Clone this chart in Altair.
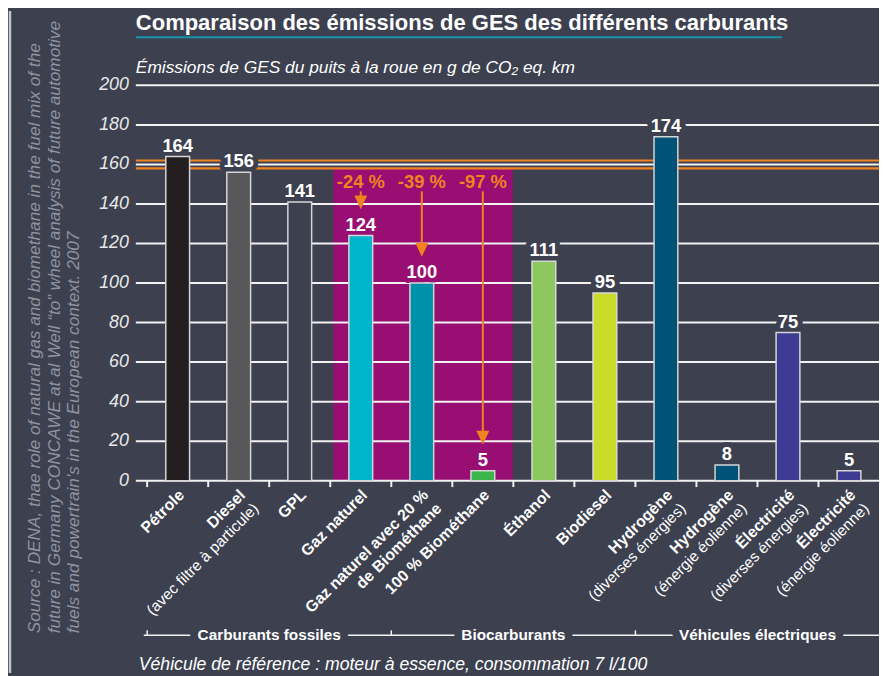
import altair as alt
import pandas as pd

# ---------------- data ----------------
categories = ["Pétrole", "Diesel", "GPL", "Gaz naturel", "Gaz naturel avec 20 %",
              "100 % Biométhane", "Éthanol", "Biodiesel", "Hydrogène", "Hydrogène",
              "Électricité", "Électricité"]
sublabels = ["", "(avec filtre à particule)", "", "", "de Biométhane", "", "", "",
             "(diverses énergies)", "(énergie éolienne)", "(diverses énergies)", "(énergie éolienne)"]
sublabel_bold = [False, False, False, False, True, False, False, False, False, False, False, False]
values = [164, 156, 141, 124, 100, 5, 111, 95, 174, 8, 75, 5]
bar_colors = ["#231f20", "#58585a", "#3c404f", "#00b4cb", "#0090ab", "#3ab54a",
              "#8cc85d", "#cbdb2a", "#005377", "#005377", "#3d3b93", "#3d3b93"]
reductions = ["", "", "", "-24 %", "-39 %", "-97 %", "", "", "", "", "", ""]
group_names = ["Carburants fossiles", "Biocarburants", "Véhicules électriques"]
group_first = [0, 4, 8]
group_last = [3, 7, 11]
y_ticks = [0, 20, 40, 60, 80, 100, 120, 140, 160, 180, 200]
reference_lines = [158, 162]
highlight_first, highlight_last = 3, 5

title_text = "Comparaison des émissions de GES des différents carburants"
subtitle_text = "Émissions de GES du puits à la roue en g de CO₂ eq. km"
footer_text = "Véhicule de référence : moteur à essence, consommation 7 l/100"
source_lines = [
    "Source : DENA, thae role of natural gas and biomethane in the fuel mix of the",
    "future in Germany CONCAWE at al Well \u201cto\u201d wheel analysis of future automotive",
    "fuels and powertrain's in the European context. 2007",
]

# ---------------- style ----------------
BG = "#3c404f"
MAGENTA = "#990e72"
ORANGE = "#f0821f"
WHITE = "#ffffff"
GRID = "#f2f2f2"
TEAL = "#1592a8"
GREY = "#9193a0"
SANS = "'Liberation Sans', Arial, sans-serif"

W, H = 879, 668
STEP = 62.3          # px per category
LEFT = 137           # chart px of the left edge of the first category band
Y0, PPU = 474, 1.995 # chart px of value 0, px per unit

xs = alt.Scale(domain=[-0.5 - LEFT / STEP, -0.5 + (W - LEFT) / STEP], nice=False, zero=False)
ys = alt.Scale(domain=[-(H - Y0) / PPU, Y0 / PPU], nice=False, zero=False)


def X(f):
    return alt.X(f"{f}:Q", scale=xs, axis=None)


def Y(f):
    return alt.Y(f"{f}:Q", scale=ys, axis=None)


n = len(categories)
df = pd.DataFrame({
    "idx": list(range(n)),
    "cat": categories,
    "sub": sublabels,
    "subbold": sublabel_bold,
    "value": values,
    "color": bar_colors,
    "red": reductions,
})
df["ko"] = [MAGENTA if highlight_first <= i <= highlight_last else BG for i in range(n)]
df["zero"] = 0
df["tick_lo"] = -3.2

one = pd.DataFrame({"a": [0]})
grid_df = pd.DataFrame({"v": [t for t in y_ticks if t > 0]})
ref_df = pd.DataFrame({"v": reference_lines})
tick_df = pd.DataFrame({"v": y_ticks, "label": [str(t) for t in y_ticks]})
hl_df = pd.DataFrame({"x0": [highlight_first - 0.45], "x1": [highlight_last + 0.49],
                      "top": [min(reference_lines)], "bottom": [0]})
grp_df = pd.DataFrame({"name": group_names,
                       "center": [(a + b) / 2 for a, b in zip(group_first, group_last)],
                       "start": [a - 0.5 for a in group_first]})

layers = []

# left frame line
layers.append(alt.Chart(one).mark_rule(color="#c4c6cc", strokeWidth=2.5).encode(
    x=alt.value(2), y=alt.value(0), y2=alt.value(H)))

# highlight block
layers.append(alt.Chart(hl_df).mark_rect(color=MAGENTA).encode(
    x=X("x0"), x2="x1", y=Y("top"), y2="bottom"))

# gridlines
layers.append(alt.Chart(grid_df).mark_rule(color=GRID, strokeWidth=2).encode(
    y=Y("v"), x=alt.value(LEFT - 8), x2=alt.value(W)))
# reference lines
layers.append(alt.Chart(ref_df).mark_rule(color=ORANGE, strokeWidth=2.2).encode(
    y=Y("v"), x=alt.value(LEFT - 8), x2=alt.value(W)))

# x axis line and ticks
layers.append(alt.Chart(one).mark_rule(color=GRID, strokeWidth=2).encode(
    y=alt.value(Y0), x=alt.value(LEFT - 8), x2=alt.value(W)))
layers.append(alt.Chart(df).transform_calculate(b="datum.idx - 0.5").mark_rule(
    color=GRID, strokeWidth=2).encode(x=X("b"), y=Y("zero"), y2="tick_lo"))

VAL_FONT = dict(font=SANS, fontWeight="bold", fontSize=18.5, baseline="middle", dy=-11)

# knock-out behind value labels
layers.append(alt.Chart(df).mark_text(strokeWidth=10, strokeJoin="round", **VAL_FONT).encode(
    x=X("idx"), y=Y("value"), text="value:N",
    fill=alt.Fill("ko:N", scale=None), stroke=alt.Stroke("ko:N", scale=None)))

# bars
layers.append(alt.Chart(df).mark_bar(size=24, stroke="#d6d6d6", strokeWidth=1.5).encode(
    x=X("idx"), y=Y("value"), y2="zero", color=alt.Color("color:N", scale=None)))

# value labels
layers.append(alt.Chart(df).mark_text(color=WHITE, **VAL_FONT).encode(
    x=X("idx"), y=Y("value"), text="value:N"))

# reduction labels and arrows
red = alt.Chart(df).transform_filter("datum.red != ''").transform_calculate(
    top=f"{min(reference_lines)}",
    shaft_top=f"{min(reference_lines)} - 11.6",
    head=f"datum.value + 16.8")
layers.append(red.mark_text(font=SANS, fontWeight="bold", fontSize=18.5, color=ORANGE,
                            baseline="middle", dy=14).encode(x=X("idx"), y=Y("top"), text="red:N"))
layers.append(red.mark_rule(color=ORANGE, strokeWidth=2).encode(
    x=X("idx"), y=Y("shaft_top"), y2="head"))
layers.append(red.mark_point(shape="M-0.93,-1L0.93,-1L0,1Z", size=196, filled=True,
                             opacity=1, color=ORANGE).encode(x=X("idx"), y=Y("head")))

# category labels (rotated)
LAB_Y = 486
LAB = dict(color=WHITE, angle=315, align="right", baseline="middle", xOffset=4)
layers.append(alt.Chart(df).mark_text(font=SANS, fontWeight="bold", fontSize=16, **LAB).encode(
    x=X("idx"), y=alt.value(LAB_Y), text="cat:N"))
layers.append(alt.Chart(df).transform_filter("datum.sub != '' && !datum.subbold").mark_text(
    font=SANS, fontSize=15.5, dy=19, **LAB).encode(x=X("idx"), y=alt.value(LAB_Y), text="sub:N"))
layers.append(alt.Chart(df).transform_filter("datum.sub != '' && datum.subbold").mark_text(
    font=SANS, fontWeight="bold", fontSize=16, dy=19, **LAB).encode(
    x=X("idx"), y=alt.value(LAB_Y), text="sub:N"))

# y tick labels
layers.append(alt.Chart(tick_df).mark_text(font=SANS, fontStyle="italic", fontSize=18,
                                           color="#e8e8e8", align="right", baseline="middle").encode(
    x=alt.value(LEFT - 15), y=Y("v"), text="label:N"))

# group bracket
GY = 630
GRP = dict(font=SANS, fontWeight="bold", fontSize=15.5, baseline="middle")
layers.append(alt.Chart(one).mark_rule(color=GRID, strokeWidth=1.5).encode(
    x=alt.value(LEFT), x2=alt.value(W), y=alt.value(GY)))
layers.append(alt.Chart(grp_df).mark_rule(color=GRID, strokeWidth=1.5).encode(
    x=X("start"), y=alt.value(GY - 5), y2=alt.value(GY)))
layers.append(alt.Chart(grp_df).mark_text(fill=BG, stroke=BG, strokeWidth=16,
                                          strokeJoin="round", **GRP).encode(
    x=X("center"), y=alt.value(GY), text="name:N"))
layers.append(alt.Chart(grp_df).mark_text(color=WHITE, **GRP).encode(
    x=X("center"), y=alt.value(GY), text="name:N"))

# title, underline, subtitle, footer
layers.append(alt.Chart(one).mark_text(text=title_text, font=SANS, fontWeight="bold",
                                       fontSize=22.2, color=WHITE, align="left",
                                       baseline="alphabetic").encode(
    x=alt.value(LEFT - 8), y=alt.value(19)))
layers.append(alt.Chart(one).mark_rule(color=TEAL, strokeWidth=2).encode(
    x=alt.value(LEFT - 8), x2=alt.value(781), y=alt.value(26.5)))
layers.append(alt.Chart(one).mark_text(text=subtitle_text, font=SANS, fontStyle="italic",
                                       fontSize=17.5, color=WHITE, align="left",
                                       baseline="alphabetic").encode(
    x=alt.value(LEFT - 8), y=alt.value(63)))
layers.append(alt.Chart(one).mark_text(text=footer_text, font=SANS, fontStyle="italic",
                                       fontSize=17.8, color=WHITE, align="left",
                                       baseline="alphabetic").encode(
    x=alt.value(132), y=alt.value(665)))

# source text (rotated)
src_df = pd.DataFrame({"line": source_lines, "k": list(range(len(source_lines)))})
src_df["px"] = [32 + 20 * k for k in range(len(source_lines))]
layers.append(alt.Chart(src_df).mark_text(font=SANS, fontStyle="italic", fontSize=17.4,
                                          color=GREY, angle=270, align="left",
                                          baseline="alphabetic").encode(
    x=alt.X("px:Q", scale=None, axis=None), y=alt.value(628), text="line:N"))

chart = alt.layer(*layers).properties(
    width=W, height=H, background=BG, padding=0,
    autosize=alt.AutoSizeParams(type="none"),
).configure_view(stroke=None)

chart.save("out.html", embed_options={"renderer": "svg", "actions": False})
